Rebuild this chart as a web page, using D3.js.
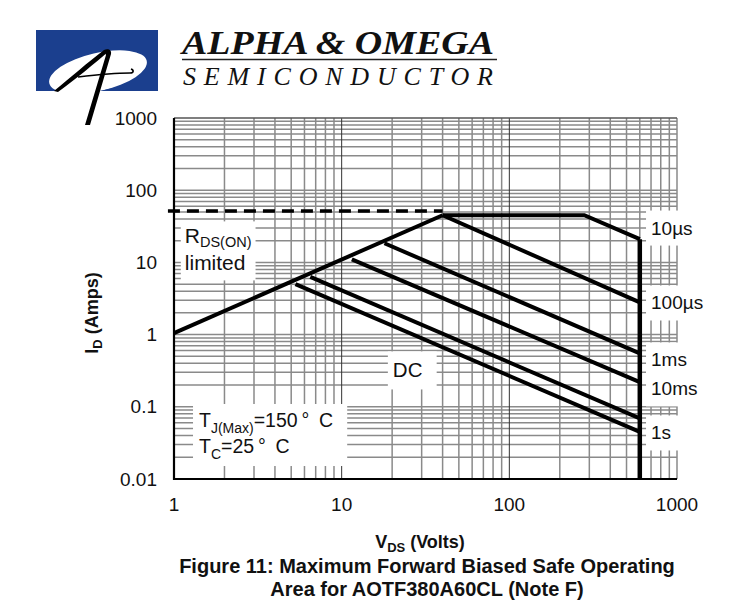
<!DOCTYPE html>
<html>
<head>
<meta charset="utf-8">
<script src="https://cdn.jsdelivr.net/npm/d3@7"></script>
<style>
  html, body { margin: 0; padding: 0; background: #fff; }
  svg { display: block; font-family: "Liberation Sans", Arial, sans-serif; }
</style>
</head>
<body>
<svg id="chart" width="750" height="600"></svg>
<script>
// ---------- data ----------
const xTicks = [1, 10, 100, 1000];
const xTickLabels = ["1", "10", "100", "1000"];
const yTicks = [0.01, 0.1, 1, 10, 100, 1000];
const yTickLabels = ["0.01", "0.1", "1", "10", "100", "1000"];

// RDS(ON) limit line (V, I)
const rdsLine = [[1, 1.05], [40, 45]];
// current limit (dashed)
const currentLimit = [[0.92, 51.5], [40, 51.5]];
// VDS(max) vertical line
const vdsLimit = [[600, 21], [600, 0.01]];

const curveNames = ["10µs", "100µs", "1ms", "10ms", "1s", "DC"];
const curve10us  = [[40, 45], [280, 45], [600, 21]];
const curve100us = [[40, 45], [600, 2.8]];
const curve1ms   = [[18, 18.4], [600, 0.55]];
const curve10ms  = [[11.5, 11], [600, 0.22]];
const curve1s    = [[6.5, 6.3], [600, 0.069]];
const curveDC    = [[5.3, 5.0], [600, 0.045]];
const curves = [curve10us, curve100us, curve1ms, curve10ms, curve1s, curveDC];

// label anchors (V, I)
const rightLabels = ["10µs", "100µs", "1ms", "10ms", "1s"];
const rightLabelI = [29.9, 2.74, 0.445, 0.177, 0.0434];
const rightLabelV = 700;
const dcLabelPos = [20.2, 0.324];

// ---------- setup ----------
const svg = d3.select("#chart");
const x = d3.scaleLog().domain([1, 1000]).range([174, 677]);
const y = d3.scaleLog().domain([0.01, 1000]).range([479, 118]);
const line = d3.line().x(d => x(d[0])).y(d => y(d[1]));

// ---------- logo ----------
const logo = svg.append("g");
logo.append("clipPath").attr("id", "logoClip")
  .append("rect").attr("x", 36).attr("y", 30).attr("width", 122).attr("height", 61);
logo.append("rect").attr("x", 36).attr("y", 30).attr("width", 122).attr("height", 61).attr("fill", "#1b3f8e");
logo.append("ellipse").attr("cx", 98).attr("cy", 72).attr("rx", 50).attr("ry", 19)
  .attr("transform", "rotate(-13 98 72)").attr("fill", "#fff").attr("clip-path", "url(#logoClip)");
// script "A"
logo.append("path").attr("d", "M54,91 C70,78 88,62 104,50 L109,51 C95,63 76,79 58,92 Z").attr("fill", "#000");
logo.append("path").attr("d", "M104,50 C108,48 112,50 111,54 L90,125 L85,125 L106,55 Z").attr("fill", "#000");
logo.append("path").attr("d", "M78,77 C95,75 115,73 130,73 C134,73 134,70 131,69")
  .attr("fill", "none").attr("stroke", "#000").attr("stroke-width", 1.6);

svg.append("text").attr("x", 182).attr("y", 54)
  .attr("font-family", "'Liberation Serif', 'DejaVu Serif', serif")
  .attr("font-style", "italic").attr("font-weight", "bold")
  .attr("font-size", 33).attr("textLength", 312).attr("lengthAdjust", "spacingAndGlyphs")
  .attr("fill", "#111").text("ALPHA & OMEGA");
svg.append("line").attr("x1", 182).attr("x2", 497).attr("y1", 59.5).attr("y2", 59.5)
  .attr("stroke", "#222").attr("stroke-width", 1.3);
svg.append("text").attr("x", 183).attr("y", 85)
  .attr("font-family", "'Liberation Serif', 'DejaVu Serif', serif")
  .attr("font-style", "italic")
  .attr("font-size", 26).attr("textLength", 310).attr("lengthAdjust", "spacing")
  .attr("fill", "#111").text("SEMICONDUCTOR");

// ---------- grid ----------
const grid = svg.append("g");
const minorX = [];
[1, 10, 100].forEach(d => { for (let m = 2; m <= 9; m++) minorX.push(d * m); });
const minorY = [];
[0.01, 0.1, 1, 10, 100].forEach(d => { for (let m = 2; m <= 9; m++) minorY.push(d * m); });

grid.selectAll(".hy").data(minorY.concat([0.1, 1, 10, 100])).join("line")
  .attr("x1", x(1)).attr("x2", x(1000))
  .attr("y1", d => y(d)).attr("y2", d => y(d))
  .attr("stroke", "#8a8a8a").attr("stroke-width", 1.5);
grid.selectAll(".vx").data(minorX.concat([1000])).join("line")
  .attr("x1", d => x(d)).attr("x2", d => x(d))
  .attr("y1", y(0.01)).attr("y2", y(1000))
  .attr("stroke", "#8a8a8a").attr("stroke-width", 1.5);
grid.selectAll(".dx").data([10, 100]).join("line")
  .attr("x1", d => x(d)).attr("x2", d => x(d))
  .attr("y1", y(0.01)).attr("y2", y(1000))
  .attr("stroke", "#333").attr("stroke-width", 1);
grid.append("line").attr("x1", x(1)).attr("x2", x(1000)).attr("y1", y(1000)).attr("y2", y(1000))
  .attr("stroke", "#555").attr("stroke-width", 1.5);

// axes frame
svg.append("line").attr("x1", x(1)).attr("x2", x(1)).attr("y1", y(1000)).attr("y2", y(0.01) + 1)
  .attr("stroke", "#000").attr("stroke-width", 2.2);
svg.append("line").attr("x1", x(1) - 1).attr("x2", x(1000)).attr("y1", y(0.01)).attr("y2", y(0.01))
  .attr("stroke", "#000").attr("stroke-width", 2.2);

// ---------- label boxes helper ----------
function boxed(g, pad) {
  const b = g.node().getBBox();
  g.insert("rect", ":first-child")
    .attr("x", b.x - pad[3]).attr("y", b.y - pad[0])
    .attr("width", b.width + pad[1] + pad[3]).attr("height", b.height + pad[0] + pad[2])
    .attr("fill", "#fff");
}

// RDS(ON) limited
const rdsG = svg.append("g").attr("font-size", 21).attr("fill", "#111");
const rt = rdsG.append("text").attr("x", x(1.16)).attr("y", y(10) - 19);
rt.append("tspan").text("R");
rt.append("tspan").attr("font-size", 14.5).attr("dy", 4).text("DS(ON)");
rdsG.append("text").attr("x", x(1.16)).attr("y", y(10) + 8).text("limited");
boxed(rdsG, [3, 4, 6, 4]);

// TJ / TC box
const tG = svg.append("g").attr("font-size", 19.5).attr("fill", "#111");
const t1 = tG.append("text").attr("x", x(1.41)).attr("y", y(0.0525));
t1.append("tspan").text("T");
t1.append("tspan").attr("font-size", 14).attr("dy", 6).text("J(Max)");
t1.append("tspan").attr("dy", -6).text("=150\u2009\u00B0\u2002C");
const t2 = tG.append("text").attr("x", x(1.41)).attr("y", y(0.0229));
t2.append("tspan").text("T");
t2.append("tspan").attr("font-size", 14).attr("dy", 6).text("C");
t2.append("tspan").attr("dy", -6).text("=25\u2009\u00B0\u2002C");
boxed(tG, [5, 14, 4, 6]);

// DC label
const dcG = svg.append("g").attr("font-size", 20.5).attr("fill", "#111");
dcG.append("text").attr("x", x(dcLabelPos[0])).attr("y", y(dcLabelPos[1]))
  .attr("dominant-baseline", "central").text("DC");
boxed(dcG, [7, 14, 8, 5]);

// ---------- curves ----------
const curveG = svg.append("g").attr("fill", "none").attr("stroke", "#000")
  .attr("stroke-linejoin", "miter").attr("stroke-linecap", "butt");
curveG.append("path").attr("d", line(currentLimit)).attr("stroke-width", 3.5).attr("stroke-dasharray", "12,7");
curveG.append("path").attr("d", line(rdsLine)).attr("stroke-width", 4);
curveG.selectAll(".c").data(curves).join("path")
  .attr("d", d => line(d)).attr("stroke-width", 4);
curveG.append("path").attr("d", line(vdsLimit)).attr("stroke-width", 4.5);

// right labels
rightLabels.forEach((t, i) => {
  const g = svg.append("g").attr("font-size", 19).attr("fill", "#111");
  g.append("text").attr("x", x(rightLabelV)).attr("y", y(rightLabelI[i]))
    .attr("dominant-baseline", "central").text(t);
  boxed(g, [7, 8, 7, 5]);
});

// ---------- ticks ----------
svg.selectAll(".yl").data(yTicks).join("text")
  .attr("x", 157).attr("y", d => y(d)).attr("dominant-baseline", "central")
  .attr("text-anchor", "end").attr("font-size", 19).attr("fill", "#111")
  .text((d, i) => yTickLabels[i]);
svg.selectAll(".xl").data(xTicks).join("text")
  .attr("x", d => x(d)).attr("y", 504).attr("dominant-baseline", "central")
  .attr("text-anchor", "middle").attr("font-size", 19).attr("fill", "#111")
  .text((d, i) => xTickLabels[i]);

// ---------- axis titles ----------
const xt = svg.append("text").attr("x", 420).attr("y", 548).attr("text-anchor", "middle")
  .attr("font-size", 18).attr("font-weight", "bold").attr("fill", "#111");
xt.append("tspan").text("V");
xt.append("tspan").attr("font-size", 13).attr("dy", 4).text("DS");
xt.append("tspan").attr("dy", -4).text(" (Volts)");

const yt = svg.append("text").attr("transform", "translate(98,313) rotate(-90)")
  .attr("text-anchor", "middle").attr("font-size", 18).attr("font-weight", "bold").attr("fill", "#111");
yt.append("tspan").text("I");
yt.append("tspan").attr("font-size", 13).attr("dy", 4).text("D");
yt.append("tspan").attr("dy", -4).text(" (Amps)");

svg.append("text").attr("x", 427).attr("y", 573).attr("text-anchor", "middle")
  .attr("font-size", 20).attr("font-weight", "bold").attr("fill", "#111")
  .text("Figure 11: Maximum Forward Biased Safe Operating");
svg.append("text").attr("x", 427).attr("y", 596).attr("text-anchor", "middle")
  .attr("font-size", 20).attr("font-weight", "bold").attr("fill", "#111")
  .text("Area for AOTF380A60CL (Note F)");
</script>
</body>
</html>
